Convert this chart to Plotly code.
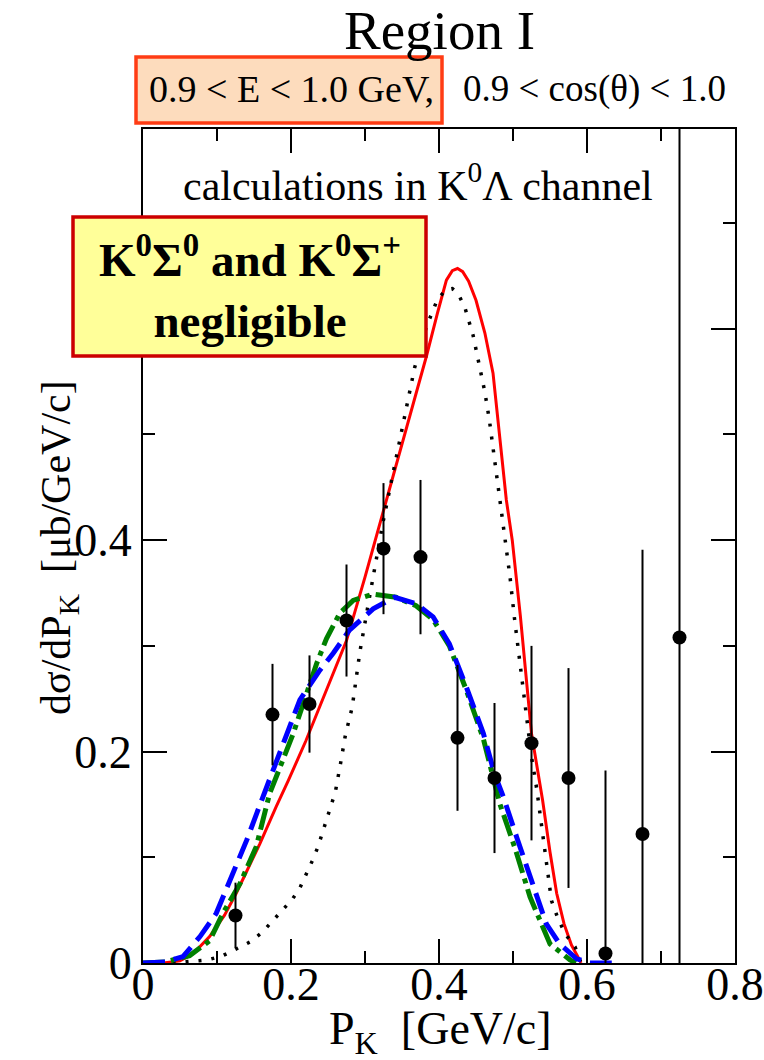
import plotly.graph_objects as go

# ---------------- data ----------------
pk_data = [0.125, 0.175, 0.225, 0.275, 0.325, 0.375, 0.425, 0.475, 0.525, 0.575, 0.625, 0.675, 0.725]
xs_data = [0.045, 0.235, 0.245, 0.324, 0.392, 0.384, 0.213, 0.175, 0.208, 0.175, 0.009, 0.122, 0.308]
err_data = [0.031, 0.048, 0.046, 0.053, 0.062, 0.073, 0.069, 0.071, 0.092, 0.104, 0.173, 0.269, 0.600]

red_x = [0, 0.03, 0.05, 0.068, 0.09, 0.11, 0.126, 0.142, 0.158, 0.18, 0.196, 0.22, 0.25, 0.275,
         0.30, 0.329, 0.355, 0.383, 0.398, 0.41, 0.418, 0.425, 0.432, 0.44, 0.45, 0.462, 0.473,
         0.482, 0.491, 0.499, 0.51, 0.525, 0.54, 0.55, 0.559, 0.569, 0.579, 0.586, 0.592]
red_y = [0, 0.0003, 0.002, 0.009, 0.025, 0.045, 0.066, 0.089, 0.113, 0.148, 0.172, 0.210, 0.262, 0.305,
         0.365, 0.438, 0.505, 0.574, 0.615, 0.646, 0.655, 0.657, 0.654, 0.645, 0.627, 0.596, 0.558,
         0.50, 0.438, 0.40, 0.328, 0.217, 0.154, 0.105, 0.066, 0.037, 0.017, 0.008, 0.0]

dot_x = [0.04, 0.062, 0.088, 0.108, 0.126, 0.145, 0.161, 0.173, 0.188, 0.2015, 0.212, 0.221, 0.229,
         0.2365, 0.242, 0.249, 0.254, 0.260, 0.267, 0.2735, 0.2827, 0.2884, 0.293, 0.303, 0.313,
         0.3235, 0.336, 0.347, 0.3585, 0.367, 0.383, 0.3975, 0.409, 0.418, 0.426, 0.435, 0.446,
         0.454, 0.462, 0.468, 0.473, 0.479, 0.484, 0.489, 0.496, 0.502, 0.509, 0.514, 0.518, 0.525,
         0.532, 0.537, 0.542, 0.546, 0.552, 0.560, 0.570, 0.584, 0.588, 0.592]
dot_y = [0, 0.001, 0.003, 0.007, 0.013, 0.020, 0.029, 0.038, 0.049, 0.060, 0.071, 0.084, 0.097,
         0.110, 0.122, 0.136, 0.148, 0.162, 0.189, 0.2155, 0.242, 0.268, 0.294, 0.334, 0.374,
         0.414, 0.457, 0.496, 0.536, 0.563, 0.602, 0.627, 0.637, 0.638, 0.633, 0.620, 0.594,
         0.567, 0.540, 0.514, 0.487, 0.460, 0.433, 0.406, 0.365, 0.326, 0.287, 0.258, 0.231, 0.195,
         0.165, 0.138, 0.111, 0.085, 0.059, 0.0435, 0.028, 0.015, 0.007, 0.0]

blue_x = [0, 0.03, 0.054, 0.077, 0.099, 0.122, 0.140, 0.162, 0.185, 0.212, 0.239, 0.257, 0.279,
          0.311, 0.340, 0.369, 0.392, 0.414, 0.437, 0.460, 0.475, 0.487, 0.505, 0.527, 0.545,
          0.563, 0.586, 0.604, 0.635]
blue_y = [0, 0.001, 0.006, 0.025, 0.047, 0.085, 0.116, 0.157, 0.198, 0.249, 0.277, 0.293, 0.315,
          0.335, 0.346, 0.340, 0.3275, 0.302, 0.261, 0.217, 0.179, 0.157, 0.119, 0.072, 0.037,
          0.018, 0.004, 0.0, 0.0]

green_x = [0, 0.03, 0.063, 0.090, 0.108, 0.131, 0.153, 0.171, 0.203, 0.2345, 0.248, 0.266, 0.284,
           0.311, 0.342, 0.369, 0.392, 0.414, 0.437, 0.460, 0.482, 0.503, 0.523, 0.550, 0.577, 0.585]
green_y = [0, 0.001, 0.007, 0.021, 0.047, 0.075, 0.110, 0.160, 0.217, 0.283, 0.307, 0.331, 0.343,
           0.349, 0.346, 0.338, 0.325, 0.300, 0.258, 0.212, 0.151, 0.108, 0.0625, 0.018, 0.003, 0.0]

x_ticks = [0, 0.2, 0.4, 0.6, 0.8]
x_ticktext = ["0", "0.2", "0.4", "0.6", "0.8"]
y_ticks = [0, 0.2, 0.4, 0.6]
y_ticktext = ["0", "0.2", "0.4", ""]

# ---------------- layout geometry (pixels) ----------------
W, H = 764, 1060
L, R, T, B = 143, 735, 129, 963


def px(x):
    return (x - L) / (R - L)


def py(y):
    return (B - y) / (B - T)


SERIF = "Liberation Serif, Times New Roman, serif"

fig = go.Figure()

fig.add_trace(go.Scatter(x=red_x, y=red_y, mode="lines",
                         line=dict(color="#ff0000", width=3), showlegend=False))
fig.add_trace(go.Scatter(x=dot_x, y=dot_y, mode="lines",
                         line=dict(color="black", width=3.5, dash="3px,10px"), showlegend=False))
fig.add_trace(go.Scatter(x=green_x, y=green_y, mode="lines",
                         line=dict(color="#008000", width=5, dash="22px,6px,5px,6px"), showlegend=False))
fig.add_trace(go.Scatter(x=blue_x, y=blue_y, mode="lines",
                         line=dict(color="#0000ff", width=5, dash="22px,9px"), showlegend=False))
fig.add_trace(go.Scatter(x=pk_data, y=xs_data, mode="markers",
                         marker=dict(color="black", size=14),
                         error_y=dict(type="data", array=err_data, color="black", thickness=2, width=0),
                         showlegend=False))

axis_common = dict(showline=True, linecolor="black", linewidth=2, mirror="allticks",
                   ticks="inside", ticklen=24, tickwidth=2, tickcolor="black",
                   showgrid=False, zeroline=False, automargin=False,
                   tickfont=dict(family=SERIF, size=46, color="black"))

fig.update_xaxes(range=[0, 0.8], tickvals=x_ticks, ticktext=x_ticktext, ticklabelstandoff=-20,
                 minor=dict(ticks="inside", ticklen=12, tickwidth=2, tickcolor="black", dtick=0.1),
                 **axis_common)
fig.update_yaxes(range=[0, 0.789], tickvals=y_ticks, ticktext=y_ticktext,
                 minor=dict(ticks="inside", ticklen=12, tickwidth=2, tickcolor="black", dtick=0.1),
                 **axis_common)

shapes = [
    dict(type="rect", xref="paper", yref="paper", x0=px(136), x1=px(442), y0=py(123), y1=py(57),
         fillcolor="#fddcbd", line=dict(color="#ff3c14", width=3.5), layer="above"),
    dict(type="rect", xref="paper", yref="paper", x0=px(73), x1=px(426), y0=py(356), y1=py(217),
         fillcolor="#ffff99", line=dict(color="#cc0000", width=3.5), layer="above"),
]

ann = [
    dict(text="Region I", x=px(439), y=py(30), font=dict(family=SERIF, size=55, color="black")),
    dict(text="0.9 &lt; E &lt; 1.0 GeV,", x=px(291), y=py(89), font=dict(family=SERIF, size=38, color="black")),
    dict(text="0.9 &lt; cos(θ) &lt; 1.0", x=px(594), y=py(89), font=dict(family=SERIF, size=37, color="black")),
    dict(text="calculations in K<sup>0</sup>Λ channel", x=px(418), y=py(182),
         font=dict(family=SERIF, size=42, color="black")),
    dict(text="<b>K<sup>0</sup>Σ<sup>0</sup> and K<sup>0</sup>Σ<sup>+</sup><br>negligible</b>",
         x=px(250), y=py(287), font=dict(family=SERIF, size=47, color="black")),
    dict(text="P<sub>K</sub>  [GeV/c]", x=px(440), y=py(1032),
         font=dict(family=SERIF, size=46, color="black")),
    dict(text="dσ/dP<sub>K</sub>  [μb/GeV/c]", x=px(59), y=py(548), textangle=-90,
         font=dict(family=SERIF, size=42, color="black")),
]
for a in ann:
    a.update(xref="paper", yref="paper", showarrow=False, xanchor="center", yanchor="middle")

fig.update_layout(width=W, height=H, margin=dict(l=L, r=W - R, t=T, b=H - B),
                  paper_bgcolor="white", plot_bgcolor="white",
                  shapes=shapes, annotations=ann, showlegend=False)

fig.write_html("out.html", config={"displayModeBar": False})
